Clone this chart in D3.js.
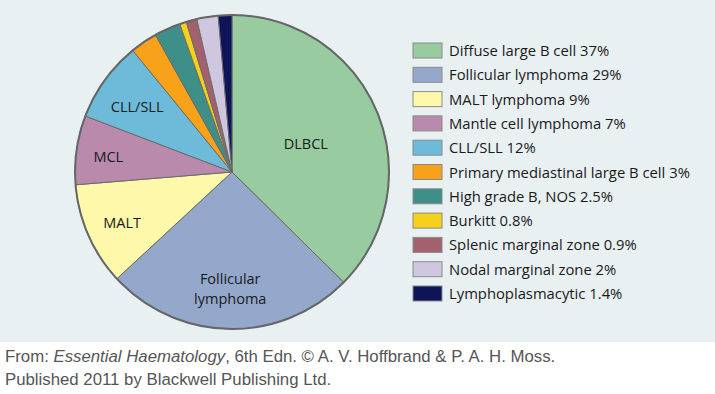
<!DOCTYPE html>
<html>
<head>
<meta charset="utf-8">
<script src="https://cdn.jsdelivr.net/npm/d3@7"></script>
<style>
  body { margin: 0; background: #fff; }
  text { font-family: "Open Sans", sans-serif; }
</style>
</head>
<body>
<svg width="715" height="394"></svg>
<script>
// legend entries and the percentages printed next to them
const types = ["Diffuse large B cell", "Follicular lymphoma", "MALT lymphoma", "Mantle cell lymphoma",
  "CLL/SLL", "Primary mediastinal large B cell", "High grade B, NOS", "Burkitt",
  "Splenic marginal zone", "Nodal marginal zone", "Lymphoplasmacytic"];
const printedPct = ["37%", "29%", "9%", "7%", "12%", "3%", "2.5%", "0.8%", "0.9%", "2%", "1.4%"];
const sliceShare = [37.4, 25.7, 10.6, 7.1, 8.3, 2.8, 2.7, 0.7, 1.1, 2.2, 1.4];
const sliceLabels = [["DLBCL"], ["Follicular", "lymphoma"], ["MALT"], ["MCL"], ["CLL/SLL"], [], [], [], [], [], []];
const colors = ["#98cca0", "#93a8ca", "#fdf8aa", "#b98aab", "#6dbbd9", "#f8a21a",
  "#3f8f89", "#f5d11c", "#a3616f", "#cfc7e0", "#0d1458"];

const svg = d3.select("svg");

// light panel behind the chart
svg.append("rect").attr("x", 0).attr("y", 0).attr("width", 715).attr("height", 342).attr("fill", "#e9f0f2");

const cx = 232, cy = 172, r = 157;
const labelR = [80, 114, 120, 125, 117];

const g = svg.append("g").attr("transform", `translate(${cx},${cy})`);

const pie = d3.pie().sort(null).value(d => d);
const arcs = pie(sliceShare);
const arc = d3.arc().innerRadius(0).outerRadius(r);

g.selectAll("path.slice")
  .data(arcs)
  .enter().append("path")
    .attr("class", "slice")
    .attr("d", arc)
    .attr("fill", (d, i) => colors[i])
    .attr("stroke", "#6b6b6b")
    .attr("stroke-width", 1)
    .attr("stroke-linejoin", "round");

g.append("circle").attr("r", r).attr("fill", "none").attr("stroke", "#666").attr("stroke-width", 2);

// labels inside the big slices, one text per line
arcs.forEach((d, i) => {
  if (!sliceLabels[i].length) return;
  const a = (d.startAngle + d.endAngle) / 2;
  const x = Math.sin(a) * labelR[i], y = -Math.cos(a) * labelR[i];
  const n = sliceLabels[i].length;
  sliceLabels[i].forEach((s, k) => {
    g.append("text")
      .attr("text-anchor", "middle")
      .attr("font-size", 14.5)
      .attr("fill", "#1a1a1a")
      .attr("x", x)
      .attr("y", y + 8 + (k - (n - 1) / 2) * 20)
      .text(s);
  });
});

// legend
const legend = svg.append("g").attr("transform", "translate(413,43)");
const row = legend.selectAll("g")
  .data(types)
  .enter().append("g")
    .attr("transform", (d, i) => `translate(0,${i * 24.3})`);

row.append("rect")
  .attr("width", 29).attr("height", 15)
  .attr("fill", (d, i) => colors[i])
  .attr("stroke", "#8a8a8a").attr("stroke-width", 1);

row.append("text")
  .attr("x", 36).attr("y", 13)
  .attr("font-size", 14.8)
  .attr("fill", "#1a1a1a")
  .text((d, i) => `${d} ${printedPct[i]}`);

// source note
const note = svg.append("g").attr("fill", "#555").attr("font-size", 16.8);
const l1 = note.append("text").attr("x", 5).attr("y", 362).style("font-family", "'Liberation Sans', Arial, sans-serif");
l1.append("tspan").text("From: ");
l1.append("tspan").attr("font-style", "italic").text("Essential Haematology");
l1.append("tspan").text(", 6th Edn. \u00a9 A. V. Hoffbrand & P. A. H. Moss.");
note.append("text").attr("x", 5).attr("y", 385).style("font-family", "'Liberation Sans', Arial, sans-serif")
  .text("Published 2011 by Blackwell Publishing Ltd.");
</script>
</body>
</html>
